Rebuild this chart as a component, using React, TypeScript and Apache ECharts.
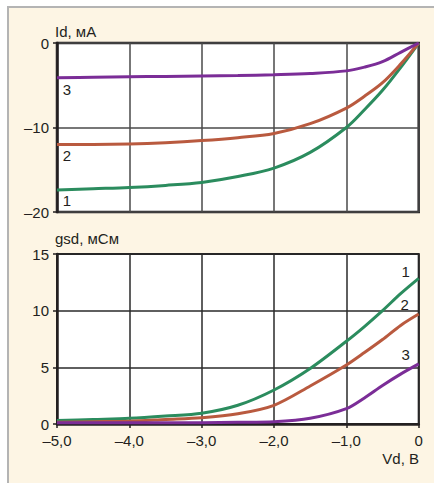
import React, { useEffect, useRef } from "react";
import * as echarts from "echarts";

// Drain voltage, V
const vd = [-5, -4.5, -4, -3.5, -3, -2.5, -2, -1.5, -1, -0.75, -0.5, -0.25, 0];

// Id, mA (top panel)
const id1 = [-17.4, -17.25, -17.1, -16.85, -16.5, -15.8, -14.8, -12.95, -10.0, -7.9, -5.6, -2.9, 0];
const id2 = [-12.0, -12.0, -11.95, -11.8, -11.55, -11.2, -10.7, -9.55, -7.7, -6.3, -4.7, -2.5, 0];
const id3 = [-4.1, -4.05, -4.0, -3.95, -3.9, -3.85, -3.75, -3.6, -3.3, -2.85, -2.2, -1.1, 0];

// gsd, mS (bottom panel)
const gsd1 = [0.3, 0.4, 0.5, 0.7, 0.95, 1.65, 3.0, 4.9, 7.3, 8.6, 10.0, 11.5, 12.85];
const gsd2 = [0.15, 0.2, 0.25, 0.4, 0.55, 0.9, 1.65, 3.35, 5.2, 6.3, 7.45, 8.7, 9.7];
const gsd3 = [0.1, 0.1, 0.1, 0.12, 0.12, 0.15, 0.2, 0.5, 1.35, 2.3, 3.4, 4.4, 5.3];

const curveNames = ["1", "2", "3"];
const idTicks = { min: -20, max: 0, interval: 10 };
const gsdTicks = { min: 0, max: 15, interval: 5 };
const vdTicks = { min: -5, max: 0, interval: 1 };

const FONT = "'Liberation Sans', Arial, sans-serif";
const INK = "#231f20";
const colors = ["#2b8c5e", "#b95a3f", "#7b2d97"];

function fmtNum(v: number, dec: number) {
  if (v === 0) return "0";
  const s = Math.abs(v).toFixed(dec).replace(".", ",");
  return (v < 0 ? "\u2013" : "") + s;
}

function buildData(ys: number[], labelIdx: number, text: string, offset: number[]) {
  return ys.map((y, i) => {
    if (i !== labelIdx) return [vd[i], y];
    return {
      value: [vd[i], y],
      label: {
        show: true,
        formatter: text,
        position: "inside",
        offset,
        fontSize: 15,
        fontFamily: FONT,
        color: INK,
      },
    };
  });
}

export default function App() {
  const ref = useRef<HTMLDivElement>(null);
  useEffect(() => {
    if (!ref.current) return;
    const chart = echarts.init(ref.current, undefined, { renderer: "svg" });
    const labelStyle = { fontSize: 15, fontFamily: FONT, color: INK };
    const topOffsets = [[10, 10], [10, 11], [10, 12]];
    const botOffsets = [[-13, -7], [-14, -10], [-13, -9]];
    const idSets = [id1, id2, id3];
    const gsdSets = [gsd1, gsd2, gsd3];

    const series: any[] = [];
    idSets.forEach((ys, k) => {
      series.push({
        type: "line",
        xAxisIndex: 0,
        yAxisIndex: 0,
        data: buildData(ys, 0, curveNames[k], topOffsets[k]),
        smooth: 0.35,
        symbol: "circle",
        symbolSize: 0,
        showSymbol: true,
        clip: false,
        lineStyle: { color: colors[k], width: 3 },
        itemStyle: { color: colors[k] },
        z: 5,
      });
    });
    gsdSets.forEach((ys, k) => {
      series.push({
        type: "line",
        xAxisIndex: 1,
        yAxisIndex: 1,
        data: buildData(ys, ys.length - 1, curveNames[k], botOffsets[k]),
        smooth: 0.3,
        symbol: "circle",
        symbolSize: 0,
        showSymbol: true,
        clip: false,
        lineStyle: { color: colors[k], width: 3 },
        itemStyle: { color: colors[k] },
        z: 5,
      });
    });

    chart.setOption({
      animation: false,
      grid: [
        {
          left: 57, right: 15.3, top: 43, bottom: 271,
          show: true, backgroundColor: "#ffffff", borderColor: INK, borderWidth: 2.5,
        },
        {
          left: 57, right: 15.3, top: 254, bottom: 59,
          show: true, backgroundColor: "#ffffff", borderColor: INK, borderWidth: 2,
        },
      ],
      xAxis: [
        {
          gridIndex: 0, type: "value", ...vdTicks,
          axisLine: { show: false },
          axisTick: { show: false },
          axisLabel: { show: false },
          splitLine: { show: true, lineStyle: { color: "#4a4a4a", width: 1.5 } },
        },
        {
          gridIndex: 1, type: "value", ...vdTicks,
          axisLine: { show: true, onZero: false, lineStyle: { color: INK, width: 2.5 } },
          axisTick: { show: true, length: 4, lineStyle: { color: INK, width: 1.5 } },
          axisLabel: { ...labelStyle, margin: 9, formatter: (v: number) => fmtNum(v, 1) },
          splitLine: { show: true, lineStyle: { color: "#2a2a2a", width: 1.5 } },
        },
      ],
      yAxis: [
        {
          gridIndex: 0, type: "value", ...idTicks,
          axisLine: { show: true, onZero: false, lineStyle: { color: INK, width: 2.5 } },
          axisTick: { show: true, length: 4, lineStyle: { color: INK, width: 1.5 } },
          axisLabel: { ...labelStyle, margin: 8, formatter: (v: number) => fmtNum(v, 0) },
          splitLine: { show: true, lineStyle: { color: "#4a4a4a", width: 1.5 } },
        },
        {
          gridIndex: 1, type: "value", ...gsdTicks,
          axisLine: { show: true, onZero: false, lineStyle: { color: INK, width: 2.5 } },
          axisTick: { show: true, length: 4, lineStyle: { color: INK, width: 1.5 } },
          axisLabel: { ...labelStyle, margin: 8, formatter: (v: number) => fmtNum(v, 0) },
          splitLine: { show: true, lineStyle: { color: "#2a2a2a", width: 1.5 } },
        },
      ],
      graphic: [
        {
          type: "text", left: 55, top: 24,
          style: { text: "Id, мА", font: `15px ${FONT}`, fill: INK },
        },
        {
          type: "text", left: 55, top: 231,
          style: { text: "gsd, мСм", font: `15px ${FONT}`, fill: INK },
        },
        {
          type: "text", right: 15, top: 451,
          style: { text: "Vd, B", font: `15px ${FONT}`, fill: INK },
        },
      ],
      series,
    });
    return () => chart.dispose();
  }, []);

  return (
    <div style={{ position: "fixed", left: 0, top: 0, width: 434, height: 483, background: "#ffffff", overflow: "hidden" }}>
      <div
        style={{
          position: "absolute", left: 7, top: 6, width: 450, height: 500,
          background: "#fdf5e4", borderLeft: "2px solid #b4b4b4", borderTop: "2px solid #b4b4b4",
        }}
      />
      <div ref={ref} style={{ position: "absolute", left: 0, top: 0, width: 434, height: 483 }} />
    </div>
  );
}
